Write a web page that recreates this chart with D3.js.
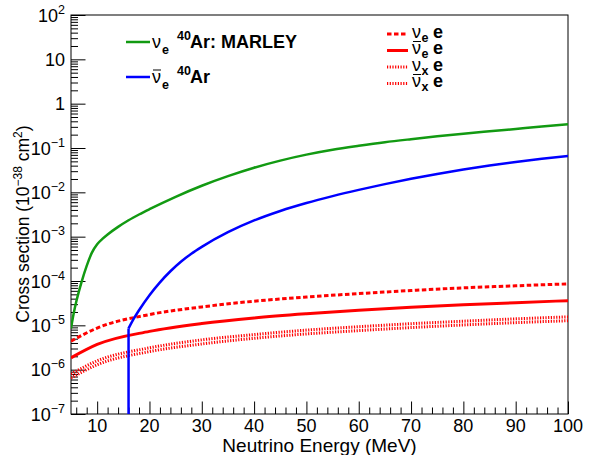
<!DOCTYPE html>
<html>
<head>
<meta charset="utf-8">
<script src="https://cdn.jsdelivr.net/npm/d3@7"></script>
<style>
  body { margin: 0; background: #fff; }
  svg { display: block; font-family: "Liberation Sans", Arial, Helvetica, sans-serif; }
</style>
</head>
<body>
<svg id="chart" width="590" height="455"></svg>
<script>
// values (cross section in 1e-38 cm^2, energy in MeV)
const greenE = [5, 5.5, 6, 6.5, 7, 8, 9, 10, 11, 12, 14, 16, 18, 20, 25, 30, 35, 40, 45, 50, 55, 60, 65, 70, 75, 80, 85, 90, 95, 100];
const greenXS = [8.5e-6, 1.82e-5, 3.39e-5, 5.75e-5, 9.33e-5, 2.19e-4, 4.37e-4, 6.76e-4, 8.91e-4, 1.12e-3, 1.66e-3, 2.34e-3, 3.16e-3, 4.17e-3, 7.94e-3, 1.41e-2, 2.32e-2, 3.59e-2, 5.19e-2, 7.08e-2, 9.12e-2, 0.112, 0.135, 0.158, 0.183, 0.21, 0.238, 0.269, 0.305, 0.343];

const blueE = [16, 16, 17, 18, 20, 22, 24, 26, 28, 30, 35, 40, 45, 50, 55, 60, 65, 70, 75, 80, 85, 90, 95, 100];
const blueXS = [1e-7, 8.5e-6, 1.41e-5, 2.19e-5, 4.79e-5, 9.33e-5, 1.66e-4, 2.72e-4, 4.12e-4, 5.89e-4, 1.26e-3, 2.32e-3, 3.80e-3, 5.75e-3, 8.22e-3, 1.135e-2, 1.53e-2, 2.02e-2, 2.60e-2, 3.27e-2, 4.03e-2, 4.84e-2, 5.69e-2, 6.61e-2];

const elecE = [5, 10, 20, 30, 40, 50, 60, 70, 80, 90, 100];
const nueXS = [4.4e-6, 8.7e-6, 1.75e-5, 2.6e-5, 3.5e-5, 4.35e-5, 5.2e-5, 6.1e-5, 7.0e-5, 7.8e-5, 8.6e-5];
const nuebarXS = [1.85e-6, 3.7e-6, 7.3e-6, 1.1e-5, 1.47e-5, 1.83e-5, 2.2e-5, 2.55e-5, 2.9e-5, 3.25e-5, 3.6e-5];
const nuxXS = [8.0e-7, 1.58e-6, 3.1e-6, 4.7e-6, 6.2e-6, 7.8e-6, 9.3e-6, 1.09e-5, 1.24e-5, 1.4e-5, 1.55e-5];
const nuxbarXS = [6.5e-7, 1.29e-6, 2.55e-6, 3.8e-6, 5.1e-6, 6.4e-6, 7.6e-6, 8.9e-6, 1.02e-5, 1.15e-5, 1.27e-5];

const xTicks = [10, 20, 30, 40, 50, 60, 70, 80, 90, 100];
const yExponents = [-7, -6, -5, -4, -3, -2, -1, 0, 1, 2];

const width = 590, height = 455;
const margin = {top: 15, right: 22, bottom: 41, left: 71};
const innerW = width - margin.left - margin.right;
const innerH = height - margin.top - margin.bottom;

const svg = d3.select('#chart');
const g = svg.append('g').attr('transform', `translate(${margin.left},${margin.top})`);

const x = d3.scaleLinear().domain([5, 100]).range([0, innerW]);
const y = d3.scaleLog().domain([1e-7, 1e2]).range([innerH, 0]);

svg.append('defs').append('clipPath').attr('id', 'clip')
  .append('rect').attr('width', innerW).attr('height', innerH);

// ---- axes (ROOT style: ticks inside the frame)
const minorX = d3.range(6, 100, 2).filter(d => d % 10 !== 0);
const majorY = yExponents.map(k => Math.pow(10, k));
const minorY = y.ticks().filter(d => !majorY.some(m => Math.abs(d / m - 1) < 1e-9));

function styleAxis(sel) {
  sel.select('.domain').remove();
  sel.selectAll('line').attr('stroke', '#000').attr('stroke-width', 1);
  sel.selectAll('text').remove();
}

g.append('g').attr('transform', `translate(0,${innerH})`)
  .call(d3.axisBottom(x).tickValues(xTicks).tickSize(-12.5).tickFormat(''))
  .call(styleAxis);
g.append('g').attr('transform', `translate(0,${innerH})`)
  .call(d3.axisBottom(x).tickValues(minorX).tickSize(-6.5).tickFormat(''))
  .call(styleAxis);
g.append('g')
  .call(d3.axisLeft(y).tickValues(majorY).tickSize(-14.5).tickFormat(''))
  .call(styleAxis);
g.append('g')
  .call(d3.axisLeft(y).tickValues(minorY).tickSize(-7).tickFormat(''))
  .call(styleAxis);

// frame
g.append('rect').attr('width', innerW).attr('height', innerH)
  .attr('fill', 'none').attr('stroke', '#000').attr('stroke-width', 1);

// x tick labels
g.selectAll('.xlab').data(xTicks).enter().append('text')
  .attr('class', 'xlab')
  .attr('x', d => x(d)).attr('y', innerH + 18)
  .attr('text-anchor', 'middle').attr('font-size', 18)
  .text(d => d);

// y tick labels
yExponents.forEach(k => {
  const t = g.append('text')
    .attr('x', -6).attr('y', y(Math.pow(10, k)) + 6.5)
    .attr('text-anchor', 'end').attr('font-size', 18);
  if (k === 0) t.text('1');
  else if (k === 1) t.text('10');
  else {
    t.append('tspan').text('10');
    t.append('tspan').attr('dy', -8).attr('font-size', 12.5)
      .text(k < 0 ? '\u2212' + Math.abs(k) : k);
  }
});

// axis titles
g.append('text')
  .attr('x', innerW / 2).attr('y', innerH + 38)
  .attr('text-anchor', 'middle').attr('font-size', 19)
  .text('Neutrino Energy (MeV)');

const yt = svg.append('text')
  .attr('transform', 'translate(29,224) rotate(-90)')
  .attr('text-anchor', 'middle').attr('font-size', 17.5);
yt.append('tspan').text('Cross section (10');
yt.append('tspan').attr('dy', -7).attr('font-size', 12).text('\u221238');
yt.append('tspan').attr('dy', 7).text(' cm');
yt.append('tspan').attr('dy', -7).attr('font-size', 12).text('2');
yt.append('tspan').attr('dy', 7).text(')');

// ---- curves
const plot = g.append('g').attr('clip-path', 'url(#clip)');
const smooth = d3.line().x(d => x(d[0])).y(d => y(d[1])).curve(d3.curveMonotoneX);
const straight = d3.line().x(d => x(d[0])).y(d => y(d[1]));

const series = [
  {E: elecE, v: nuxXS, color: '#ff0000', w: 3, dash: '1.2,1.5'},
  {E: elecE, v: nuxbarXS, color: '#ff0000', w: 3, dash: '1.2,1.5'},
  {E: elecE, v: nuebarXS, color: '#ff0000', w: 3, dash: null},
  {E: elecE, v: nueXS, color: '#ff0000', w: 3, dash: '4.5,2.5'},
  {E: greenE, v: greenXS, color: '#129a12', w: 2.5, dash: null},
  {E: blueE.slice(1), v: blueXS.slice(1), color: '#0000ff', w: 2.5, dash: null}
];
series.forEach(s => {
  plot.append('path')
    .datum(s.E.map((e, i) => [e, s.v[i]]))
    .attr('d', smooth)
    .attr('fill', 'none').attr('stroke', s.color).attr('stroke-width', s.w)
    .attr('stroke-dasharray', s.dash);
});
// blue threshold step
plot.append('path')
  .datum(blueE.slice(0, 2).map((e, i) => [e, blueXS[i]]))
  .attr('d', straight)
  .attr('fill', 'none').attr('stroke', '#0000ff').attr('stroke-width', 2.5);

// ---- left legend
const leftLeg = [
  {color: '#129a12', bar: false, rest: 'Ar: MARLEY', y: 42},
  {color: '#0000ff', bar: true, rest: 'Ar', y: 77}
];
leftLeg.forEach(d => {
  svg.append('line').attr('x1', 126).attr('x2', 150).attr('y1', d.y).attr('y2', d.y)
    .attr('stroke', d.color).attr('stroke-width', 2.5);
  const b = d.y + 6;
  if (d.bar) svg.append('line').attr('x1', 153).attr('x2', 161).attr('y1', b - 13).attr('y2', b - 13)
    .attr('stroke', '#000').attr('stroke-width', 1);
  const t = svg.append('text').attr('x', 152).attr('y', b).attr('font-size', 18);
  t.append('tspan').text('\u03bd');
  t.append('tspan').attr('x', 162).attr('dy', 6).attr('font-size', 12.5).attr('font-weight', 'bold').text('e');
  t.append('tspan').attr('x', 177).attr('dy', -14).attr('font-size', 12.5).attr('font-weight', 'bold').text('40');
  t.append('tspan').attr('x', 190).attr('dy', 8).attr('font-weight', 'bold').text(d.rest);
});

// ---- right legend
const rightLeg = [
  {dash: '4.5,2.5', bar: false, sub: 'e', y: 34},
  {dash: null, bar: true, sub: 'e', y: 50.5},
  {dash: '1.2,1.5', bar: false, sub: 'x', y: 67},
  {dash: '1.2,1.5', bar: true, sub: 'x', y: 83.5}
];
rightLeg.forEach(d => {
  svg.append('line').attr('x1', 387).attr('x2', 408).attr('y1', d.y).attr('y2', d.y)
    .attr('stroke', '#ff0000').attr('stroke-width', 3).attr('stroke-dasharray', d.dash);
  const b = d.y + 3.5;
  if (d.bar) svg.append('line').attr('x1', 413).attr('x2', 421).attr('y1', b - 12.5).attr('y2', b - 12.5)
    .attr('stroke', '#000').attr('stroke-width', 1);
  const t = svg.append('text').attr('x', 412).attr('y', b).attr('font-size', 18);
  t.append('tspan').text('\u03bd');
  t.append('tspan').attr('x', 421.5).attr('dy', 4).attr('font-size', 12.5).attr('font-weight', 'bold').text(d.sub);
  t.append('tspan').attr('x', 433).attr('dy', -4).attr('font-weight', 'bold').text('e');
});
</script>
</body>
</html>
